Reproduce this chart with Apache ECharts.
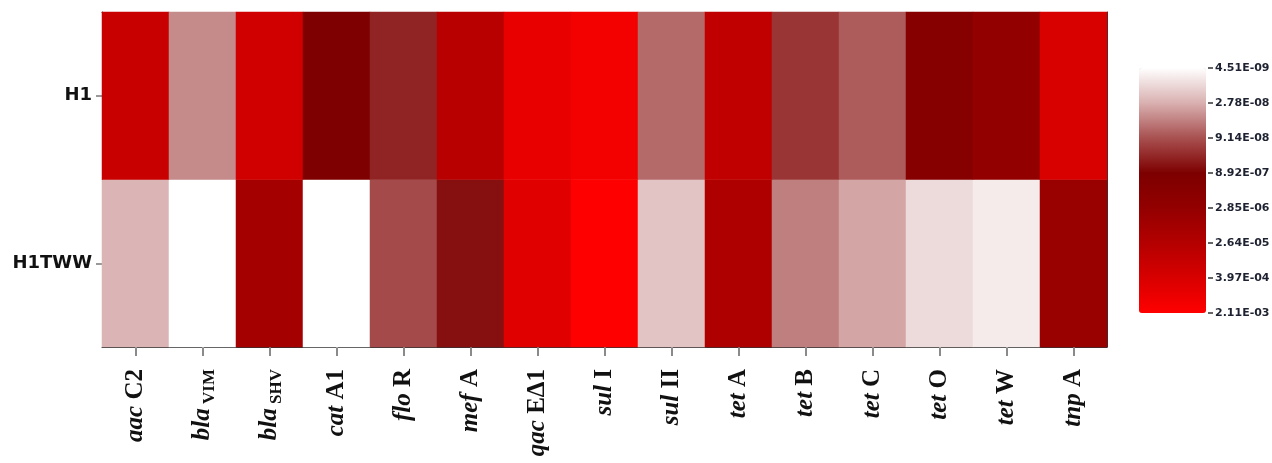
<!DOCTYPE html>
<html>
<head>
<meta charset="utf-8">
<script src="https://cdn.jsdelivr.net/npm/echarts@6/dist/echarts.min.js"></script>
<style>
  html, body { margin: 0; padding: 0; background: #ffffff; }
  #chart { width: 1272px; height: 463px; }
</style>
</head>
<body>
<div id="chart"></div>
<script>
// ---- data ----
const geneItalic = ['aac', 'bla', 'bla', 'cat', 'flo', 'mef', 'qac', 'sul', 'sul', 'tet', 'tet', 'tet', 'tet', 'tet', 'tnp'];
const geneSuffix = ['C2', 'VIM', 'SHV', 'A1', 'R', 'A', 'E\u03941', 'I', 'II', 'A', 'B', 'C', 'O', 'W', 'A'];
const suffixIsSub = [false, true, true, false, false, false, false, false, false, false, false, false, false, false, false];
const categories = geneItalic.map((g, i) => g + ' ' + geneSuffix[i]);
const samples = ['H1TWW', 'H1'];
const h1Values = [1.21e-4, 4.48e-8, 2.19e-4, 9.89e-7, 3.20e-7, 3.56e-5, 7.87e-4, 1.26e-3, 6.62e-8, 6.46e-5, 1.98e-7, 8.02e-8, 1.50e-6, 2.69e-6, 4.18e-4];
const h1twwValues = [2.49e-8, 4.51e-9, 9.08e-6, 4.51e-9, 1.07e-7, 5.65e-7, 5.64e-4, 2.11e-3, 1.76e-8, 1.89e-5, 5.11e-8, 3.17e-8, 1.06e-8, 7.10e-9, 4.26e-6];
const legendTicks = ['4.51E-09', '2.78E-08', '9.14E-08', '8.92E-07', '2.85E-06', '2.64E-05', '3.97E-04', '2.11E-03'];
const legendColors = ['#ffffff', '#d9b0b0', '#a85050', '#7d0000', '#930000', '#b40000', '#d80000', '#ff0000'];

// map an abundance to its position on the (piecewise-log) colour scale
const tickLogs = legendTicks.map(t => Math.log10(Number(t)));
function scalePos(v) {
  const lv = Math.log10(v);
  if (lv <= tickLogs[0]) return 0;
  for (let k = 0; k < tickLogs.length - 1; k++) {
    if (lv <= tickLogs[k + 1]) return k + (lv - tickLogs[k]) / (tickLogs[k + 1] - tickLogs[k]);
  }
  return tickLogs.length - 1;
}

const heatData = [];
h1twwValues.forEach((v, i) => heatData.push([i, 0, scalePos(v), v]));
h1Values.forEach((v, i) => heatData.push([i, 1, scalePos(v), v]));

const chart = echarts.init(document.getElementById('chart'), null, { renderer: 'canvas' });
const serifLabel = {
  i: { fontFamily: 'Liberation Serif', fontStyle: 'italic', fontWeight: 'bold', fontSize: 25, color: '#111' },
  r: { fontFamily: 'Liberation Serif', fontWeight: 'bold', fontSize: 25, color: '#111' },
  s: { fontFamily: 'Liberation Serif', fontWeight: 'bold', fontSize: 17, color: '#111', verticalAlign: 'bottom', padding: [0, 0, -3, 0] }
};

chart.setOption({
  animation: false,
  backgroundColor: '#ffffff',
  grid: [
    { left: 102, right: 165, top: 12, bottom: 116 },
    { left: 1213, top: 68, width: 50, height: 245 }
  ],
  xAxis: [
    {
      type: 'category', gridIndex: 0, data: categories, position: 'bottom',
      axisLine: { show: true, lineStyle: { color: '#333', width: 1 } },
      axisTick: { show: true, alignWithLabel: true, length: 9, lineStyle: { color: '#8a8a8a', width: 2 } },
      axisLabel: {
        rotate: 90, margin: 22, interval: 0,
        formatter: (val, idx) => '{i|' + geneItalic[idx] + '}' + (suffixIsSub[idx] ? '{s| ' + geneSuffix[idx] + '}' : '{r| ' + geneSuffix[idx] + '}'),
        rich: serifLabel
      },
      splitLine: { show: false }
    },
    {
      type: 'category', gridIndex: 0, data: categories, position: 'top',
      axisLine: { show: true, lineStyle: { color: '#333', width: 1 } },
      axisTick: { show: false }, axisLabel: { show: false }, splitLine: { show: false }
    },
    { type: 'value', gridIndex: 1, show: false, min: 0, max: 1 }
  ],
  yAxis: [
    {
      type: 'category', gridIndex: 0, data: samples, position: 'left',
      axisLine: { show: true, lineStyle: { color: '#333', width: 1 } },
      axisTick: { show: true, alignWithLabel: true, length: 6, lineStyle: { color: '#999', width: 2 } },
      axisLabel: { fontFamily: 'DejaVu Sans', fontWeight: 'bold', fontSize: 18, color: '#111', margin: 10 },
      splitLine: { show: false }
    },
    {
      type: 'category', gridIndex: 0, data: samples, position: 'right',
      axisLine: { show: true, lineStyle: { color: '#333', width: 1 } },
      axisTick: { show: false }, axisLabel: { show: false }, splitLine: { show: false }
    },
    {
      type: 'value', gridIndex: 1, min: 0, max: 7, interval: 1, inverse: true, position: 'left', z: 10,
      axisLine: { show: false },
      axisTick: { show: true, inside: false, length: 5, lineStyle: { color: '#333', width: 1.5 } },
      axisLabel: { inside: true, formatter: v => legendTicks[v] || '', fontFamily: 'DejaVu Sans', fontWeight: 'bold', fontSize: 11, color: '#1e2230', margin: 2 },
      splitLine: { show: false }
    }
  ],
  visualMap: {
    type: 'continuous', min: 0, max: 7, dimension: 2, seriesIndex: 0,
    inRange: { color: legendColors },
    orient: 'vertical', inverse: true, calculable: false,
    left: 1139, top: 68, itemWidth: 67, itemHeight: 245, padding: 0
  },
  series: [{
    type: 'heatmap', xAxisIndex: 0, yAxisIndex: 0,
    data: heatData,
    itemStyle: { borderWidth: 0 },
    emphasis: { disabled: true }
  }]
});
</script>
</body>
</html>
